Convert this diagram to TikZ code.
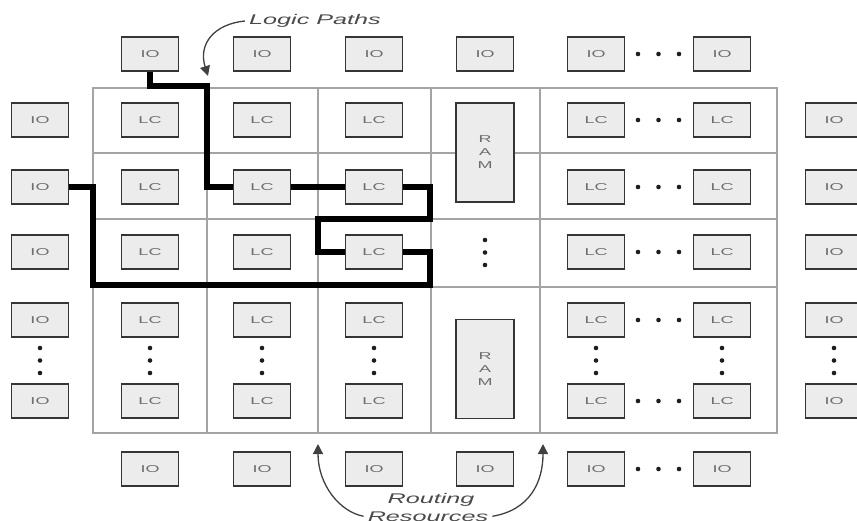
\documentclass[tikz,border=0pt]{standalone}
\usepackage{fontspec}
\usepackage{graphicx}
\setmainfont{Liberation Sans}
\usetikzlibrary{arrows.meta}
\pgfdeclarelayer{background}
\pgfsetlayers{background,main}
\newcommand\wide[1]{\scalebox{1.8}[1]{#1}}
\definecolor{boxfill}{HTML}{ECECEC}
\definecolor{boxline}{HTML}{353535}
\definecolor{boxtext}{HTML}{6E6E6E}
\definecolor{gridc}{HTML}{A4A4A4}
\definecolor{labeltext}{HTML}{4A4A4A}
\definecolor{arrowc}{HTML}{404040}
\definecolor{dotc}{HTML}{1E1E1E}
\begin{document}
\begin{tikzpicture}[x=1pt,y=-1pt,
  cell/.style={draw=boxline, fill=boxfill, line width=1.8pt, minimum width=57pt,
    minimum height=34pt, inner sep=0pt, text=boxtext, font=\fontsize{10}{13}\selectfont},
  ramcell/.style={cell, minimum width=58pt, minimum height=99pt, align=center},
  lbl/.style={inner sep=0pt, text=labeltext, font=\fontsize{14}{17}\selectfont\itshape},
  gridline/.style={draw=gridc, line width=2.2pt},
  logic/.style={draw=black, line width=5.5pt, line join=miter},
  ptr/.style={draw=arrowc, line width=1.3pt, -{Triangle[length=10pt,width=10pt]}},
  dot/.style={fill=dotc}]
\useasboundingbox (0,0) rectangle (857,520);

% top and bottom IO rows
\foreach \x/\n in {150/1,262/2,374/3,485/4,596/5,722/6}{
  \node[cell] (iot\n) at (\x,54) {\wide{IO}};
  \node[cell] (iob\n) at (\x,469) {\wide{IO}};
}
% left and right IO columns
\foreach \y/\n in {120/1,187/2,252/3,320/4,401/5}{
  \node[cell] (iol\n) at (40,\y) {\wide{IO}};
  \node[cell] (ior\n) at (834,\y) {\wide{IO}};
}
% logic cells
\foreach \x/\c in {150/1,262/2,374/3,596/5,722/6}{
  \foreach \y/\r in {120/1,187/2,252/3,320/4,401/5}{
    \node[cell] (lc\c\r) at (\x,\y) {\wide{LC}};
  }
}
% RAM blocks
\node[ramcell] (ram1) at (485,152.5) {\wide{R}\\\wide{A}\\\wide{M}};
\node[ramcell] (ram2) at (485,369) {\wide{R}\\\wide{A}\\\wide{M}};

% horizontal dots
\foreach \y in {54,120,187,252,320,401,469}{
  \foreach \x in {638,658.5,679}{
    \fill[dot] (\x,\y) circle (2.3pt);
  }
}
% vertical dots
\foreach \x in {40,150,262,374,596,722,834}{
  \foreach \y in {348,360.5,373}{
    \fill[dot] (\x,\y) circle (2.3pt);
  }
}
\foreach \y in {240,252.5,265}{
  \fill[dot] (485,\y) circle (2.3pt);
}

\begin{pgfonlayer}{background}
  % routing grid
  \draw[gridline] (93,88) rectangle (777,433);
  \foreach \x in {207,318,431,540}{
    \draw[gridline] (\x,88) -- (\x,433);
  }
  \foreach \y in {153,219,287}{
    \draw[gridline] (93,\y) -- (777,\y);
  }
  % logic paths
  \draw[logic] (iot1.south) -- (150,86) -- (207,86) |- (lc22.west);
  \draw[logic] (lc22.east) -- (lc32.west);
  \draw[logic] (lc32.east) -| (430,219) -- (318,219) |- (lc33.west);
  \draw[logic] (lc33.east) -| (430,285) -- (93,285) |- (iol2.east);
\end{pgfonlayer}

% labels and pointers
\node[lbl] (lp) at (315,21) {\wide{Logic Paths}};
\coordinate (lptip) at (208,76);
\draw[ptr] ([xshift=-4pt]lp.west) .. controls (214,24) and (198,44) .. (lptip);

\node[lbl, anchor=base] (rr1) at (431,503) {\wide{Routing}};
\node[lbl, anchor=base] (rr2) at (428,521) {\wide{Resources}};
\coordinate (rrtipl) at (318,444);
\coordinate (rrtipr) at (543,444);
\draw[ptr] ([xshift=-4pt]rr2.west) .. controls (340,512) and (318,485) .. (rrtipl);
\draw[ptr] ([xshift=4pt]rr2.east) .. controls (530,510) and (543,482) .. (rrtipr);
\end{tikzpicture}
\end{document}
